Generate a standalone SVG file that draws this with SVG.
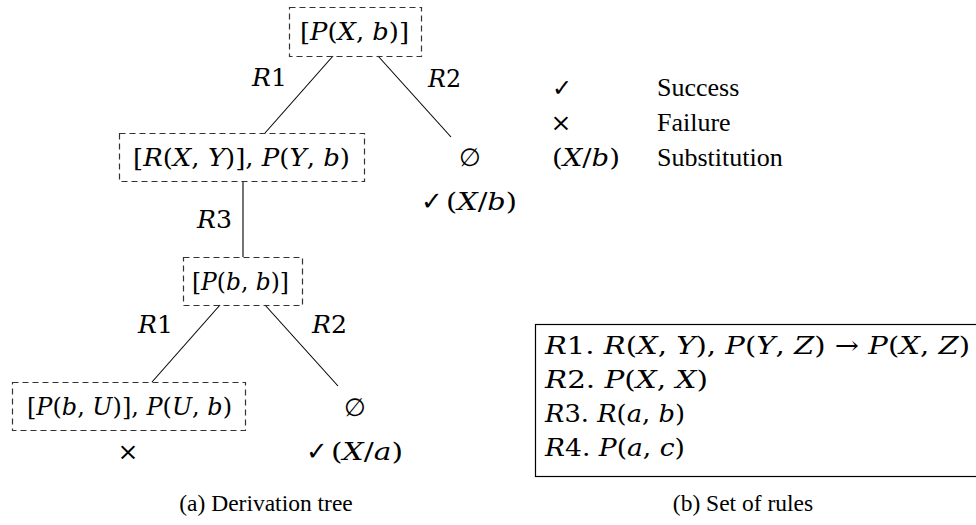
<svg xmlns="http://www.w3.org/2000/svg" width="976" height="525" viewBox="0 0 976 525">
<style>
.bg{fill:#fff}
.box{fill:none;stroke:#333;stroke-width:1.2;stroke-dasharray:6 4}
.edge{stroke:#000;stroke-width:1.1;fill:none}
.m{font-family:'DejaVu Serif','Liberation Serif',serif;font-size:25px;fill:#000}
.i{font-style:italic}
.t{font-family:'Liberation Serif','DejaVu Serif',serif;font-size:26px;fill:#000}
.cap{font-family:'Liberation Serif','DejaVu Serif',serif;font-size:23.5px;fill:#000}
.sym{font-family:'DejaVu Sans',sans-serif;fill:#000}
.rules{fill:none;stroke:#000;stroke-width:1.2}
</style>
<rect class="bg" x="0" y="0" width="976" height="525"/>

<g id="connectors">
<line class="edge" x1="333" y1="56" x2="265" y2="133"/>
<line class="edge" x1="378" y1="56" x2="451" y2="137"/>
<line class="edge" x1="243" y1="181" x2="243" y2="257"/>
<line class="edge" x1="220" y1="305" x2="152" y2="382"/>
<line class="edge" x1="265" y1="305" x2="338" y2="386"/>
<text class="m" x="252" y="86" textLength="35" lengthAdjust="spacingAndGlyphs"><tspan class="i">R</tspan>1</text>
<text class="m" x="428" y="87" textLength="33" lengthAdjust="spacingAndGlyphs"><tspan class="i">R</tspan>2</text>
<text class="m" x="197" y="228" textLength="35" lengthAdjust="spacingAndGlyphs"><tspan class="i">R</tspan>3</text>
<text class="m" x="138" y="333" textLength="35" lengthAdjust="spacingAndGlyphs"><tspan class="i">R</tspan>1</text>
<text class="m" x="312" y="333" textLength="35" lengthAdjust="spacingAndGlyphs"><tspan class="i">R</tspan>2</text>
</g>

<g id="n1">
<rect class="box" x="289.5" y="7.5" width="132" height="49"/>
<text class="m" x="300" y="40" textLength="109" lengthAdjust="spacingAndGlyphs">[<tspan class="i">P</tspan>(<tspan class="i">X</tspan>, <tspan class="i">b</tspan>)]</text>
</g>

<g id="n2">
<rect class="box" x="119.5" y="133.5" width="245" height="48"/>
<text class="m" x="133" y="166" textLength="217" lengthAdjust="spacingAndGlyphs">[<tspan class="i">R</tspan>(<tspan class="i">X</tspan>, <tspan class="i">Y</tspan>)], <tspan class="i">P</tspan>(<tspan class="i">Y</tspan>, <tspan class="i">b</tspan>)</text>
</g>

<g id="n3">
<text class="m" x="470" y="166" text-anchor="middle">∅</text>
<text class="sym" x="421" y="210" font-size="26" font-weight="bold">✓</text>
<text class="m" x="446" y="210" textLength="71" lengthAdjust="spacingAndGlyphs">(<tspan class="i">X</tspan>/<tspan class="i">b</tspan>)</text>
</g>

<g id="n4">
<rect class="box" x="183.5" y="257.5" width="119" height="48"/>
<text class="m" x="192" y="290" textLength="97" lengthAdjust="spacingAndGlyphs">[<tspan class="i">P</tspan>(<tspan class="i">b</tspan>, <tspan class="i">b</tspan>)]</text>
</g>

<g id="n5">
<rect class="box" x="12.5" y="382.5" width="233" height="48"/>
<text class="m" x="27" y="415" textLength="205" lengthAdjust="spacingAndGlyphs">[<tspan class="i">P</tspan>(<tspan class="i">b</tspan>, <tspan class="i">U</tspan>)], <tspan class="i">P</tspan>(<tspan class="i">U</tspan>, <tspan class="i">b</tspan>)</text>
<text class="m" x="128" y="460" text-anchor="middle">×</text>
</g>

<g id="n6">
<text class="m" x="355" y="416" text-anchor="middle">∅</text>
<text class="sym" x="306" y="460" font-size="26" font-weight="bold">✓</text>
<text class="m" x="331" y="460" textLength="72" lengthAdjust="spacingAndGlyphs">(<tspan class="i">X</tspan>/<tspan class="i">a</tspan>)</text>
</g>

<g id="legend">
<text class="sym" x="552" y="96" font-size="24">✓</text>
<text class="t" x="657" y="96">Success</text>
<text class="m" x="561" y="131" text-anchor="middle">×</text>
<text class="t" x="657" y="131">Failure</text>
<text class="m" x="552" y="166" textLength="68" lengthAdjust="spacingAndGlyphs">(<tspan class="i">X</tspan>/<tspan class="i">b</tspan>)</text>
<text class="t" x="657" y="166">Substitution</text>
</g>

<g id="rules">
<rect class="rules" x="535.5" y="324.5" width="450" height="152"/>
<text class="m" x="545" y="354" textLength="425" lengthAdjust="spacingAndGlyphs"><tspan class="i">R</tspan>1. <tspan class="i">R</tspan>(<tspan class="i">X</tspan>, <tspan class="i">Y</tspan>), <tspan class="i">P</tspan>(<tspan class="i">Y</tspan>, <tspan class="i">Z</tspan>) → <tspan class="i">P</tspan>(<tspan class="i">X</tspan>, <tspan class="i">Z</tspan>)</text>
<text class="m" x="545" y="388" textLength="163" lengthAdjust="spacingAndGlyphs"><tspan class="i">R</tspan>2. <tspan class="i">P</tspan>(<tspan class="i">X</tspan>, <tspan class="i">X</tspan>)</text>
<text class="m" x="545" y="422" textLength="140" lengthAdjust="spacingAndGlyphs"><tspan class="i">R</tspan>3. <tspan class="i">R</tspan>(<tspan class="i">a</tspan>, <tspan class="i">b</tspan>)</text>
<text class="m" x="545" y="456" textLength="140" lengthAdjust="spacingAndGlyphs"><tspan class="i">R</tspan>4. <tspan class="i">P</tspan>(<tspan class="i">a</tspan>, <tspan class="i">c</tspan>)</text>
</g>

<g id="captions">
<text class="cap" x="266" y="511" text-anchor="middle">(a)  Derivation tree</text>
<text class="cap" x="743" y="511" text-anchor="middle">(b)  Set of rules</text>
</g>
</svg>
